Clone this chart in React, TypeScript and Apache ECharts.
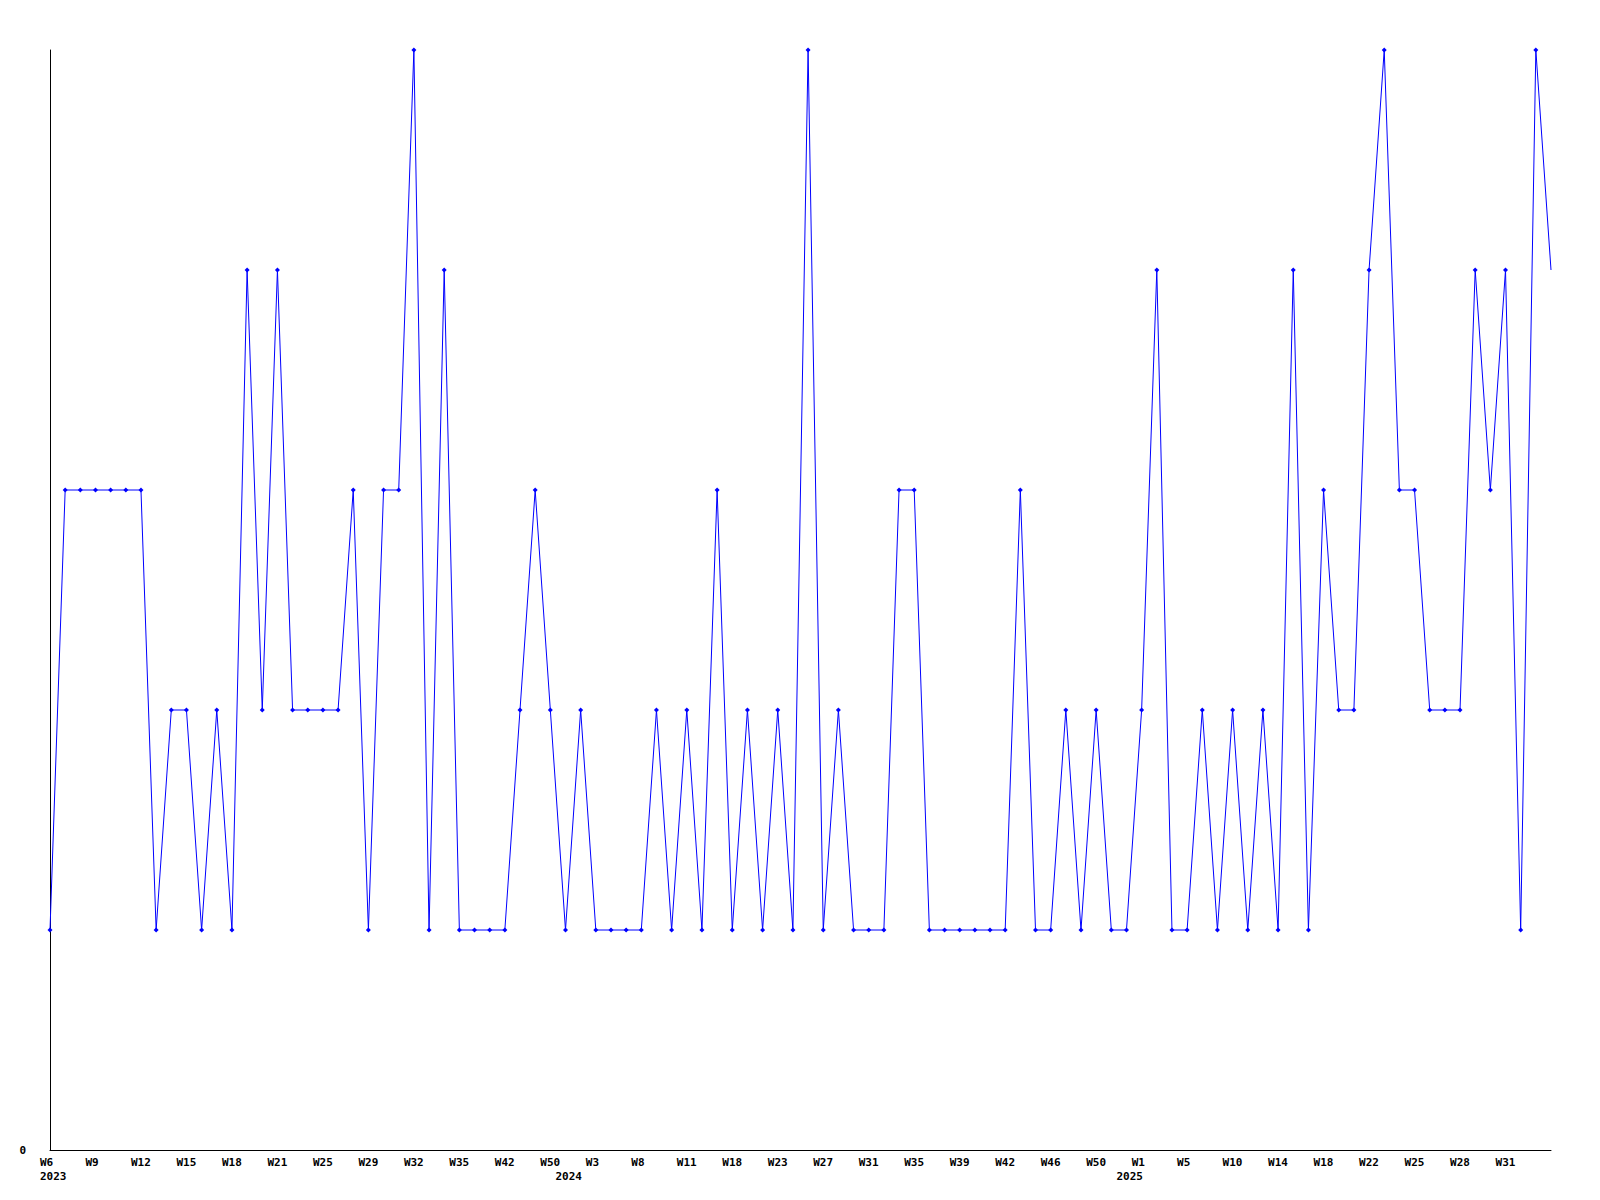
import React, { useEffect, useRef } from "react";
import * as echarts from "echarts";

// Week tick labels, one every third weekly point
const tickLabels: string[] = [
  "W6", "W9", "W12", "W15", "W18", "W21", "W25", "W29", "W32", "W35", "W42", "W50",
  "W3", "W8", "W11", "W18", "W23", "W27", "W31", "W35", "W39", "W42", "W46", "W50",
  "W1", "W5", "W10", "W14", "W18", "W22", "W25", "W28", "W31",
];

// Year labels and the category index where each one sits
const yearLabels: string[] = ["2023", "2024", "2025"];
const yearIndex: number[] = [0, 34, 71];

// Weekly values (100 points)
const values: number[] = [
  1, 3, 3, 3, 3, 3, 3, 1, 2, 2,
  1, 2, 1, 4, 2, 4, 2, 2, 2, 2,
  3, 1, 3, 3, 5, 1, 4, 1, 1, 1,
  1, 2, 3, 2, 1, 2, 1, 1, 1, 1,
  2, 1, 2, 1, 3, 1, 2, 1, 2, 1,
  5, 1, 2, 1, 1, 1, 3, 3, 1, 1,
  1, 1, 1, 1, 3, 1, 1, 2, 1, 2,
  1, 1, 2, 4, 1, 1, 2, 1, 2, 1,
  2, 1, 4, 1, 3, 2, 2, 4, 5, 3,
  3, 2, 2, 2, 4, 3, 4, 1, 5, 4,
];

const categories: string[] = values.map((_, i) => String(i));

export default function App() {
  const ref = useRef<HTMLDivElement>(null);
  useEffect(() => {
    if (!ref.current) return;
    const chart = echarts.init(ref.current, undefined, { renderer: "svg" });
    const font = "DejaVu Sans Mono";
    const labelBase = {
      color: "#000000",
      fontFamily: font,
      fontWeight: "bold",
      fontSize: 11,
      lineHeight: 14,
      align: "left",
      padding: [0, 0, 0, -10],
      hideOverlap: false,
    };
    const seriesData = values.map((v, i) =>
      i === values.length - 1 ? { value: v, symbol: "none" } : v
    );
    chart.setOption({
      animation: false,
      backgroundColor: "#ffffff",
      grid: { left: 50, right: 49, top: 50, bottom: 50, containLabel: false },
      xAxis: [
        {
          type: "category",
          data: categories,
          boundaryGap: false,
          position: "bottom",
          offset: 0,
          axisLine: { show: true, lineStyle: { color: "#000000", width: 1 } },
          axisTick: { show: false },
          splitLine: { show: false },
          axisLabel: {
            ...labelBase,
            interval: (index: number) => index % 3 === 0,
            formatter: (_v: string, index: number) => tickLabels[index / 3] ?? "",
            margin: 5,
          },
        },
        {
          type: "category",
          data: categories,
          boundaryGap: false,
          position: "bottom",
          offset: 0,
          axisLine: { show: false },
          axisTick: { show: false },
          splitLine: { show: false },
          axisLabel: {
            ...labelBase,
            interval: (index: number) => yearIndex.indexOf(index) >= 0,
            formatter: (_v: string, index: number) => {
              const k = yearIndex.indexOf(index);
              return k >= 0 ? yearLabels[k] : "";
            },
            margin: 19,
          },
        },
      ],
      yAxis: {
        type: "value",
        min: 0,
        max: 5,
        interval: 5,
        axisLine: { show: true, lineStyle: { color: "#000000", width: 1 } },
        axisTick: { show: false },
        splitLine: { show: false },
        axisLabel: {
          formatter: (v: number) => (v === 0 ? "0" : ""),
          color: "#000000",
          fontFamily: font,
          fontWeight: "bold",
          fontSize: 11,
          margin: 24,
        },
      },
      series: [
        {
          type: "line",
          xAxisIndex: 0,
          data: seriesData,
          symbol: "diamond",
          symbolSize: 5,
          showAllSymbol: true,
          lineStyle: { color: "#0000ff", width: 1 },
          itemStyle: { color: "#0000ff" },
          clip: false,
        },
      ],
    });
    return () => chart.dispose();
  }, []);
  return (
    <div
      ref={ref}
      style={{ position: "fixed", left: 0, top: 0, width: 1600, height: 1200 }}
    />
  );
}
